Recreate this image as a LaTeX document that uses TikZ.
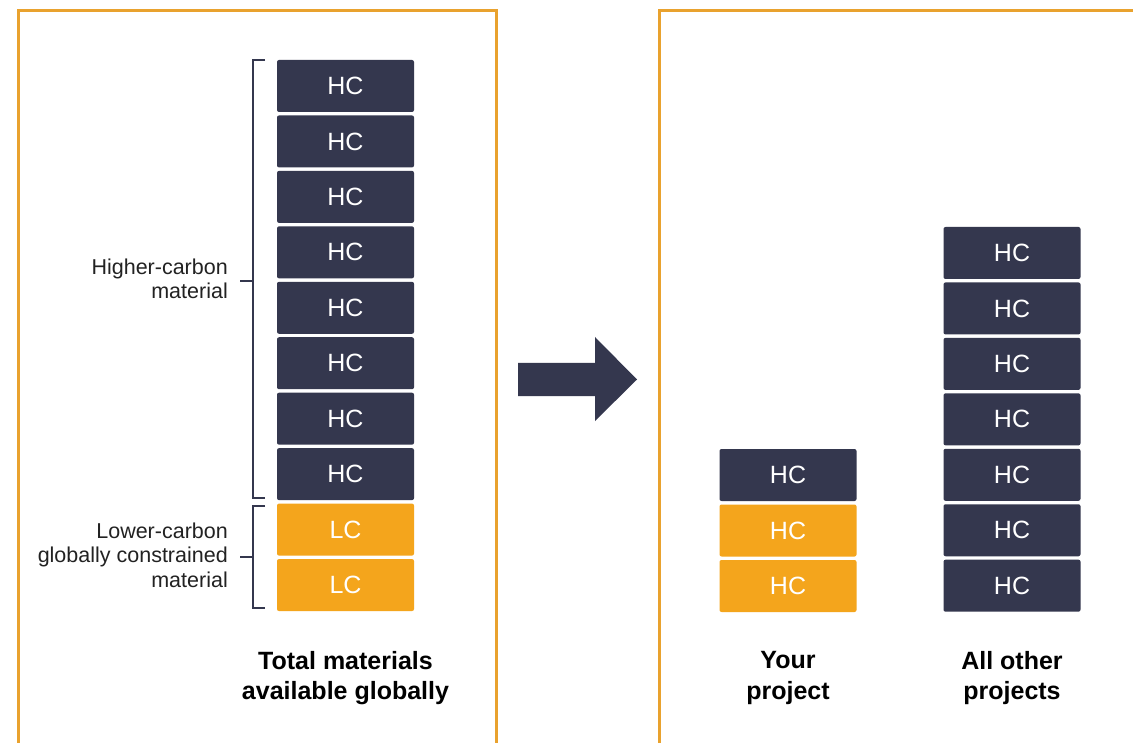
\documentclass[tikz,border=0pt]{standalone}
\usepackage{fontspec}
\usetikzlibrary{calc}
\setmainfont{Liberation Sans}
\definecolor{navy}{HTML}{34374E}
\definecolor{amber}{HTML}{F4A51C}
\definecolor{frame}{HTML}{E9A22E}
\definecolor{ink}{HTML}{222222}
\tikzset{
  block/.style={minimum width=137pt, minimum height=52pt, inner sep=0pt,
    rounded corners=2pt, text=white, font=\fontsize{25}{25}\selectfont},
  hcbox/.style={block, fill=navy},
  lcbox/.style={block, fill=amber},
  note/.style={align=right, anchor=east, text=ink,
    font=\fontsize{21.5}{24.5}\selectfont, inner sep=0pt},
  caption/.style={align=center, text=black, inner sep=0pt,
    font=\bfseries\fontsize{25}{30.5}\selectfont},
  panel/.style={draw=frame, line width=3pt},
  brace/.style={draw=navy, line width=1.4pt},
}
\begin{document}
\begin{tikzpicture}[x=1pt, y=-1pt]
\useasboundingbox (0,0) rectangle (1133,743);
\fill[white] (0,0) rectangle (1133,743);

% panel frames, open at the bottom / right
\draw[panel] (18,746) |- (496,11) -- (496,746);
\draw[panel] (659,746) |- (1136,11);

% global stock: eight higher-carbon, two lower-carbon blocks
\foreach \i in {1,...,8}
  \node[hcbox] (g\i) at (345.5, {86+55.45*(\i-1)}) {HC};
\node[lcbox] (g9)  at (345.5, {86+55.45*8}) {LC};
\node[lcbox] (g10) at (345.5, {86+55.45*9}) {LC};

% your project
\node[hcbox] (p1) at (788, 475) {HC};
\node[lcbox] (p2) at (788, 530.5) {HC};
\node[lcbox] (p3) at (788, 586) {HC};

% all other projects
\foreach \i in {1,...,7}
  \node[hcbox] (o\i) at (1012, {253+55.45*(\i-1)}) {HC};

% brackets
\coordinate (ua) at (253, 60);
\coordinate (ub) at (253, 498);
\coordinate (um) at (253, 281);
\draw[brace] ($(ua)+(12,0)$) -- (ua) -- (ub) -- ($(ub)+(12,0)$);
\draw[brace] (um) -- ++(-13,0) coordinate (umt);
\coordinate (la) at (253, 506);
\coordinate (lb) at (253, 608);
\coordinate (lm) at (253, 557);
\draw[brace] ($(la)+(12,0)$) -- (la) -- (lb) -- ($(lb)+(12,0)$);
\draw[brace] (lm) -- ++(-13,0) coordinate (lmt);

% bracket labels
\node[note] (hlab) at (228, 279) {Higher-carbon\\material};
\node[note] (llab) at (228, 555) {Lower-carbon\\globally constrained\\material};

% block arrow between panels
\fill[navy] (518,363) -- (595,363) -- (595,337) -- (637,379.5)
  -- (595,421) -- (595,396) -- (518,396) -- cycle;

% captions
\node[caption] (c1) at (345.5, 678) {Total materials\\available globally};
\node[caption] (c2) at (788, 678) {Your\\project};
\node[caption] (c3) at (1012, 678) {All other\\projects};
\end{tikzpicture}
\end{document}
